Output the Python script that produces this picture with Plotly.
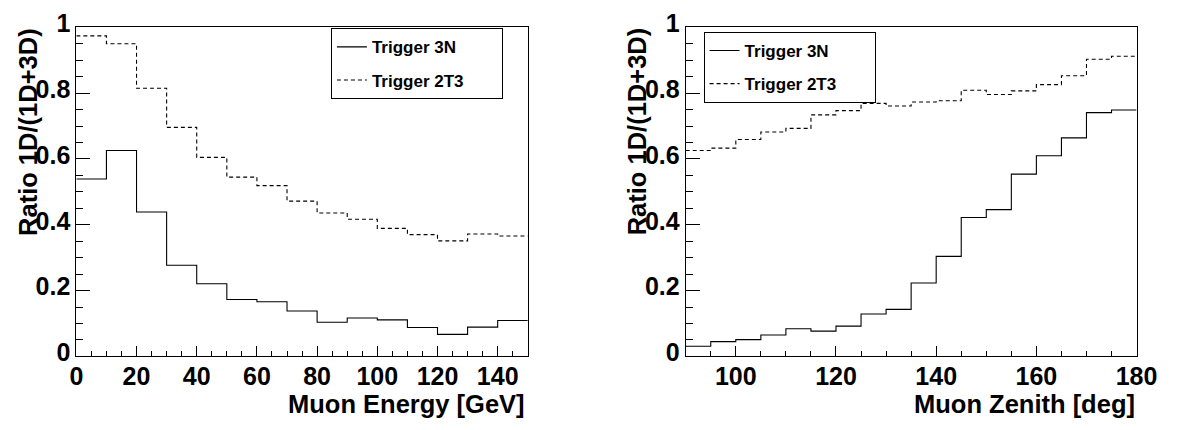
import plotly.graph_objects as go

# ---- data ----
energy_edges = [0, 10, 20, 30, 40, 50, 60, 70, 80, 90, 100, 110, 120, 130, 140, 150]
trig3n_energy = [0.539, 0.626, 0.439, 0.277, 0.221, 0.173, 0.166, 0.138, 0.104, 0.117,
                 0.111, 0.088, 0.067, 0.089, 0.109]
trig2t3_energy = [0.974, 0.950, 0.815, 0.696, 0.605, 0.545, 0.519, 0.472, 0.436, 0.417,
                  0.389, 0.370, 0.351, 0.372, 0.366]

zenith_edges = [90, 95, 100, 105, 110, 115, 120, 125, 130, 135, 140, 145, 150, 155, 160,
                165, 170, 175, 180]
trig3n_zenith = [0.031, 0.045, 0.051, 0.065, 0.084, 0.077, 0.092, 0.129, 0.143, 0.223,
                 0.304, 0.422, 0.446, 0.554, 0.610, 0.664, 0.741, 0.749]
trig2t3_zenith = [0.626, 0.633, 0.659, 0.682, 0.693, 0.734, 0.747, 0.769, 0.761, 0.773,
                  0.777, 0.809, 0.796, 0.807, 0.826, 0.853, 0.903, 0.912]

series_names = ["Trigger 3N", "Trigger 2T3"]
x_titles = ["Muon Energy [GeV]", "Muon Zenith [deg]"]
y_title = "Ratio 1D/(1D+3D)"
y_tickvals = [0, 0.2, 0.4, 0.6, 0.8, 1]
y_ticktext = ["0", "0.2", "0.4", "0.6", "0.8", "1"]

W, H = 1194, 430
FONT = "Liberation Sans, Arial, Helvetica, sans-serif"
pad = "\u00a0" * 7

fig = go.Figure()


def steps(vals):
    return list(vals) + [vals[-1]]


panels = [
    (energy_edges, trig3n_energy, trig2t3_energy, "x", "y", "legend"),
    (zenith_edges, trig3n_zenith, trig2t3_zenith, "x2", "y2", "legend2"),
]
for edges, s3n, s2t3, xa, ya, lg in panels:
    fig.add_trace(go.Scatter(x=edges, y=steps(s3n), mode="lines", line_shape="hv",
                             line=dict(color="black", width=1.1),
                             name=series_names[0] + pad, legend=lg, legendgroup="a" + xa,
                             xaxis=xa, yaxis=ya))
    fig.add_trace(go.Scatter(x=edges, y=steps(s2t3), mode="lines", line_shape="hv",
                             line=dict(color="black", width=1.1, dash="4px,3px"),
                             name=series_names[1] + pad, legend=lg, legendgroup="b" + xa,
                             xaxis=xa, yaxis=ya))

ydom = [1 - 362 / H, 1 - 10 / H]
xdom1 = [71 / W, 533.3 / W]
xdom2 = [695 / W, 1156.7 / W]

tickfont = dict(family=FONT, size=25, color="black", weight="bold")

common_x = dict(showline=True, mirror=True, linecolor="black", linewidth=1,
                ticks="inside", ticklen=10.5, tickcolor="black", tickwidth=1,
                tickfont=tickfont, showgrid=False, zeroline=False,
                tick0=0, dtick=20, ticklabelstandoff=-2,
                minor=dict(dtick=5, ticks="inside", ticklen=5.5, tickcolor="black",
                           showgrid=False))
common_y = dict(showline=True, mirror=True, linecolor="black", linewidth=1,
                ticks="inside", ticklen=14, tickcolor="black", tickwidth=1,
                tickfont=tickfont, showgrid=False, zeroline=False,
                range=[0, 1], tickmode="array", tickvals=y_tickvals, ticktext=y_ticktext,
                ticklabelshift=-4, ticklabeloverflow="allow",
                minor=dict(dtick=0.05, tick0=0, ticks="inside", ticklen=7, tickcolor="black",
                           showgrid=False))

legend_font = dict(family=FONT, size=17, color="black", weight="bold")
fig.update_layout(
    width=W, height=H,
    margin=dict(l=0, r=0, t=0, b=0),
    paper_bgcolor="white", plot_bgcolor="white",
    xaxis=dict(domain=xdom1, range=[0, 150], anchor="y", **common_x),
    yaxis=dict(domain=ydom, anchor="x", **common_y),
    xaxis2=dict(domain=xdom2, range=[90, 180], anchor="y2", **common_x),
    yaxis2=dict(domain=ydom, anchor="x2", **common_y),
    showlegend=True,
    legend=dict(x=331.7 / W, y=1 - 11 / H, xanchor="left", yanchor="top",
                bgcolor="white", bordercolor="black", borderwidth=1, font=legend_font,
                traceorder="grouped", tracegroupgap=8, itemwidth=30),
    legend2=dict(x=713.3 / W, y=1 - 15 / H, xanchor="left", yanchor="top",
                 bgcolor="white", bordercolor="black", borderwidth=1, font=legend_font,
                 traceorder="grouped", tracegroupgap=8, itemwidth=30),
)

title_font = dict(family=FONT, size=25.5, color="black", weight="bold")
annots = []
for xr, xt in [(532.5, x_titles[0]), (1157, x_titles[1])]:
    annots.append(dict(xref="paper", yref="paper", x=xr / W, y=1 - 412.5 / H,
                       xanchor="right", yanchor="middle", text=xt, showarrow=False,
                       font=title_font))
for xc in [22, 646]:
    annots.append(dict(xref="paper", yref="paper", x=xc / W, y=1 - 8 / H,
                       xanchor="center", yanchor="top", text=y_title, textangle=-90,
                       showarrow=False, font=title_font))
fig.update_layout(annotations=annots)

fig.write_html("out.html")
